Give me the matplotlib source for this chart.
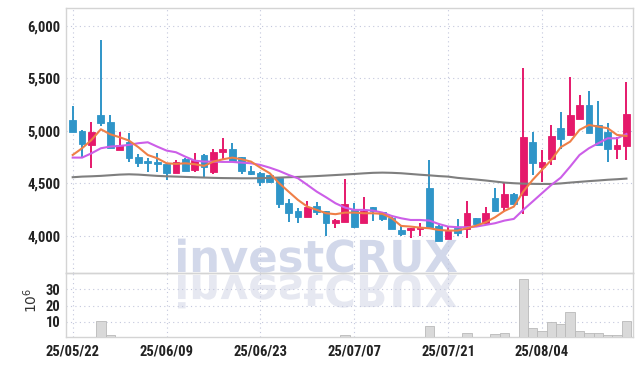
import numpy as np
import matplotlib.pyplot as plt
from matplotlib import font_manager
from matplotlib.textpath import TextPath
from matplotlib.patches import PathPatch
from matplotlib.font_manager import FontProperties
from matplotlib.transforms import Affine2D

# daily candles, 25/05/22 .. 25/08/18 (60 trading days)
opens = [5105, 5000, 4867, 5152, 5089, 4822, 4892, 4755, 4714, 4705,
         4686, 4603, 4733, 4629, 4774, 4606, 4803, 4829, 4752, 4622,
         4603, 4581, 4555, 4311, 4238, 4184, 4283, 4238, 4127, 4136,
         4248, 4127, 4276, 4229, 4175, 4060, 4060, 4070, 4457, 4098,
         3971, 4079, 4064, 4171, 4121, 4362, 4273, 4397, 4390, 4895,
         4654, 4730, 5029, 4959, 5117, 5248, 5057, 4987, 4832, 4860]
highs = [5238, 5005, 5083, 5867, 5152, 4987, 4978, 4781, 4746, 4793,
         4690, 4724, 4746, 4793, 4776, 4832, 4930, 4883, 4755, 4670,
         4605, 4583, 4557, 4352, 4264, 4336, 4321, 4240, 4160, 4540,
         4311, 4368, 4278, 4231, 4177, 4095, 4076, 4121, 4724, 4100,
         4083, 4159, 4333, 4173, 4273, 4460, 4508, 4413, 5597, 4993,
         4819, 5054, 5184, 5511, 5343, 5381, 5283, 5073, 4946, 5464]
lows = [4990, 4750, 4650, 5050, 4835, 4820, 4702, 4660, 4612, 4606,
        4533, 4600, 4620, 4606, 4559, 4587, 4730, 4705, 4587, 4578,
        4476, 4502, 4264, 4130, 4121, 4182, 4200, 4000, 4073, 4134,
        4073, 4125, 4143, 4146, 4067, 4000, 3984, 4000, 4076, 3952,
        3971, 4000, 3978, 4100, 4105, 4233, 4232, 4300, 4210, 4581,
        4517, 4676, 4832, 4957, 5115, 4976, 4868, 4705, 4730, 4724]
closes = [4993, 4876, 4993, 5073, 4841, 4867, 4746, 4698, 4698, 4686,
          4603, 4702, 4622, 4724, 4660, 4800, 4829, 4714, 4622, 4593,
          4511, 4514, 4302, 4216, 4184, 4276, 4232, 4127, 4152, 4305,
          4089, 4238, 4238, 4162, 4067, 4022, 4076, 4089, 4076, 3952,
          4048, 4025, 4222, 4117, 4222, 4235, 4400, 4302, 4940, 4698,
          4705, 4952, 4927, 5152, 5248, 4978, 4870, 4832, 4864, 5162]
# volume, millions of shares
volumes = [0.6, 0.5, 0.7, 10.4, 1.9, 0.9, 0.8, 0.5, 0.4, 0.8,
           0.4, 0.3, 0.3, 0.3, 0.4, 0.8, 0.8, 0.4, 0.3, 0.3,
           0.3, 0.3, 0.5, 0.4, 0.3, 0.4, 0.3, 0.4, 0.3, 1.8,
           0.4, 0.8, 0.3, 0.3, 0.3, 0.3, 0.3, 0.3, 7.8, 0.8,
           0.5, 0.8, 3.0, 0.8, 0.8, 2.6, 3.2, 0.8, 36.0, 6.6,
           4.8, 10.2, 8.6, 16.2, 4.8, 3.2, 3.2, 1.8, 1.8, 10.8]
# moving averages
ma5 = [4771, 4835, 4914, 5016, 4968, 4940, 4908, 4845, 4771, 4740,
       4692, 4686, 4692, 4683, 4667, 4708, 4730, 4746, 4730, 4708,
       4650, 4597, 4502, 4422, 4343, 4279, 4248, 4216, 4207, 4222,
       4222, 4216, 4216, 4210, 4168, 4095, 4089, 4079, 4073, 4057,
       4051, 4051, 4073, 4098, 4130, 4178, 4238, 4279, 4422, 4533,
       4629, 4724, 4845, 4898, 5010, 5057, 5041, 5026, 4962, 4952]
ma20 = [4746, 4746, 4787, 4835, 4851, 4857, 4867, 4883, 4892, 4851,
        4813, 4797, 4755, 4717, 4708, 4708, 4705, 4705, 4698, 4692,
        4676, 4650, 4619, 4581, 4549, 4486, 4422, 4368, 4311, 4270,
        4248, 4248, 4241, 4222, 4190, 4168, 4152, 4152, 4146, 4114,
        4089, 4083, 4083, 4089, 4105, 4121, 4146, 4162, 4248, 4327,
        4407, 4486, 4555, 4660, 4771, 4835, 4883, 4930, 4930, 4971]
ma120 = [4559, 4565, 4568, 4572, 4578, 4584, 4587, 4584, 4578, 4572,
         4568, 4565, 4562, 4559, 4556, 4553, 4551, 4550, 4549, 4549,
         4550, 4553, 4556, 4559, 4562, 4566, 4570, 4575, 4580, 4585,
         4590, 4596, 4601, 4603, 4601, 4597, 4590, 4583, 4577, 4570,
         4565, 4553, 4545, 4537, 4528, 4518, 4508, 4502, 4498, 4496,
         4495, 4495, 4500, 4508, 4515, 4522, 4528, 4535, 4540, 4546]
date_ticks = [0, 10, 20, 30, 40, 50]
date_labels = ['25/05/22', '25/06/09', '25/06/23', '25/07/07', '25/07/21', '25/08/04']
price_ticks = [4000, 4500, 5000, 5500, 6000]
vol_ticks = [10, 20, 30]

UP = '#e5196b'
DOWN = '#2f95c8'
GRID = '#c3c7dc'
EDGE = '#d4d4d4'

names = {f.name for f in font_manager.fontManager.ttflist}
lab_font, lab_size = 'Roboto', 9.5
for nm in ['Roboto Condensed', 'DejaVu Sans Condensed', 'Liberation Sans Narrow']:
    if nm in names:
        lab_font, lab_size = nm, 10.5
        break

fig = plt.figure(figsize=(6.42, 3.66), dpi=100)
ax = fig.add_axes([0.103, 0.255, 0.883, 0.722])
axv = fig.add_axes([0.103, 0.079, 0.883, 0.176], sharex=ax)
for a in (ax, axv):
    a.set_facecolor('none')
    for s in a.spines.values():
        s.set_color(EDGE)
        s.set_linewidth(1.0)
    a.grid(True, ls=(0, (1, 3)), color=GRID, lw=0.8)
    a.set_axisbelow(True)
    a.tick_params(length=0, colors='#222222')

x = np.arange(len(closes))
o = np.array(opens); c = np.array(closes)
cols = [UP if cc >= oo else DOWN for oo, cc in zip(opens, closes)]

# candles
ax.vlines(x, lows, highs, colors=cols, lw=1.4, zorder=3)
bot = np.minimum(o, c)
hgt = np.maximum(np.abs(c - o), 12)
ax.bar(x, hgt, bottom=bot, width=0.72, color=cols, edgecolor=cols, lw=0.6, zorder=4)

ax.plot(x, ma120, color='#7f7f7f', lw=1.5, zorder=5)
ax.plot(x, ma20, color='#cc5ee8', lw=1.5, zorder=5)
ax.plot(x, ma5, color='#ef7f47', lw=1.5, zorder=6)

ax.set_xlim(-0.7, 59.7)
ax.set_ylim(3650, 6167)
ax.set_yticks(price_ticks)
ax.set_yticklabels([f'{p:,}' for p in price_ticks], fontsize=lab_size,
                   fontfamily=lab_font, fontweight='bold')
ax.tick_params(axis='x', labelbottom=False)
ax.tick_params(axis='y', pad=4)

# volume
axv.bar(x, volumes, width=1.0, color='#d9d9d9', edgecolor='#b9b9b9', lw=0.6, zorder=3)
axv.set_ylim(0.8, 40)
axv.set_yticks(vol_ticks)
axv.set_yticklabels([str(v) for v in vol_ticks], fontsize=lab_size,
                    fontfamily=lab_font, fontweight='bold')
axv.set_xticks(date_ticks)
axv.set_xticklabels(date_labels, fontsize=lab_size, fontfamily=lab_font, fontweight='bold')
axv.tick_params(axis='x', pad=5)
axv.tick_params(axis='y', pad=4)
fig.text(0.048, 0.18, r'$10^6$', rotation=90, fontsize=10, color='#333333',
         ha='center', va='center', family='DejaVu Serif')

# watermark with its mirror image
tp = TextPath((0, 0), 'investCRUX', size=10, prop=FontProperties(family='DejaVu Sans', weight='bold'))
ext = tp.get_extents()
sx = 279 / ext.width
sy = 4.4
x0 = 178 - ext.x0 * sx
wm = PathPatch(tp, transform=Affine2D().scale(sx, sy).translate(x0, 366 - 272), fc='#d2d8ea',
               ec='none', zorder=-1)
wm2 = PathPatch(tp, transform=Affine2D().scale(sx, -sy).translate(x0, 366 - 275), fc='#e6e8f1',
                ec='none', zorder=-1)
fig.patches.extend([wm, wm2])

fig.savefig('out.png', dpi=100)
